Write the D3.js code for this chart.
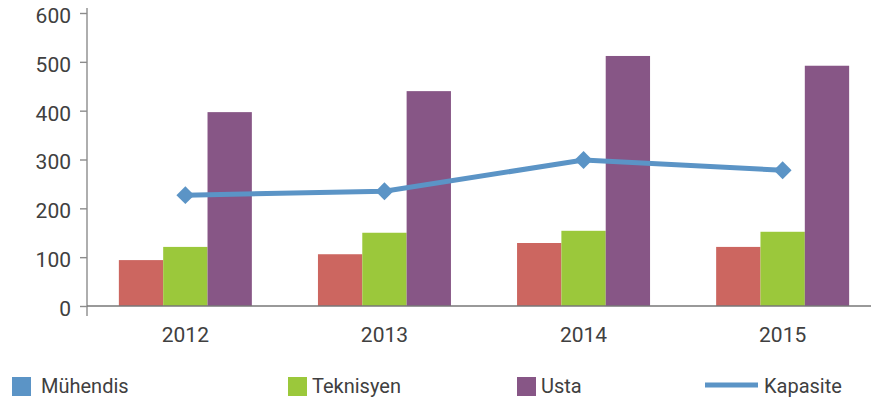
<!DOCTYPE html>
<html>
<head>
<meta charset="utf-8">
<script src="https://cdn.jsdelivr.net/npm/d3@7"></script>
<style>
  body { margin: 0; background: #fff; }
  text { font-family: Roboto, "DejaVu Sans", sans-serif; fill: #404040; }
</style>
</head>
<body>
<div id="chart"></div>
<script>
// data
let years = ["2012", "2013", "2014", "2015"]
let muhendis = [94, 106, 129, 121]
let teknisyen = [121, 150, 154, 152]
let usta = [397, 440, 512, 492]
let kapasite = [227, 235, 299, 278]
let yTicks = [0, 100, 200, 300, 400, 500, 600]

let width = 873, height = 400

let svg = d3.select("#chart")
    .append("svg")
    .attr("width", width)
    .attr("height", height)

let x = d3.scaleBand()
    .domain(years)
    .range([87, 881])
    .paddingInner(0.332)
    .paddingOuter(0.16)

let y = d3.scaleLinear()
    .domain([0, 600])
    .range([306, 13])

let series = [
    { key: "Mühendis", values: muhendis, color: "#cc6660", legend: "#5b94c6" },
    { key: "Teknisyen", values: teknisyen, color: "#9bc83b", legend: "#9bc83b" },
    { key: "Usta", values: usta, color: "#875686", legend: "#875686" }
]

let x1 = d3.scaleBand()
    .domain(series.map(d => d.key))
    .range([0, x.bandwidth()])

// y axis
let yAxis = svg.append("g")
    .attr("transform", `translate(${x.range()[0]},0)`)
    .call(d3.axisLeft(y).tickValues(yTicks).tickSize(7).tickPadding(9))
yAxis.select(".domain").remove()
yAxis.append("line")
    .attr("y1", 8).attr("y2", 316)
    .attr("stroke", "#8c8c8c").attr("stroke-width", 1.4)
yAxis.selectAll(".tick line").attr("stroke", "#8c8c8c").attr("stroke-width", 1.4)
yAxis.selectAll(".tick text")
    .style("font-size", "21px")
    .attr("dy", "0.45em")
    .attr("fill", "#404040")

// bars
series.forEach(function(s) {
    svg.append("g")
        .selectAll("rect")
        .data(s.values)
        .enter()
        .append("rect")
        .attr("x", (d, i) => x(years[i]) + x1(s.key))
        .attr("y", d => y(d))
        .attr("width", x1.bandwidth())
        .attr("height", d => y(0) - y(d))
        .attr("fill", s.color)
})

// x axis
let xAxis = svg.append("g")
    .attr("transform", `translate(0,${y(0)})`)
    .call(d3.axisBottom(x).tickSize(0).tickPadding(21))
xAxis.select(".domain").remove()
xAxis.append("line")
    .attr("x1", x.range()[0]).attr("x2", 871)
    .attr("stroke", "#777").attr("stroke-width", 1.5)
xAxis.selectAll(".tick text")
    .style("font-size", "21px")
    .attr("fill", "#404040")

// capacity line
let line = d3.line()
    .x((d, i) => x(years[i]) + x.bandwidth() / 2)
    .y(d => y(d))

svg.append("path")
    .datum(kapasite)
    .attr("d", line)
    .attr("fill", "none")
    .attr("stroke", "#5b94c6")
    .attr("stroke-width", 5)

svg.append("g")
    .selectAll("path")
    .data(kapasite)
    .enter()
    .append("path")
    .attr("d", d3.symbol().type(d3.symbolSquare).size(160))
    .attr("transform", (d, i) => `translate(${x(years[i]) + x.bandwidth() / 2},${y(d)}) rotate(45)`)
    .attr("fill", "#5b94c6")

// legend
let legendX = [12, 288, 517]
let legend = svg.append("g")
series.forEach(function(s, i) {
    legend.append("rect")
        .attr("x", legendX[i]).attr("y", 377)
        .attr("width", 19).attr("height", 19)
        .attr("fill", s.legend)
    legend.append("text")
        .attr("x", legendX[i] + (i == 0 ? 29 : 24)).attr("y", 393)
        .style("font-size", "20px")
        .text(s.key)
})
legend.append("line")
    .attr("x1", 705).attr("x2", 758)
    .attr("y1", 385).attr("y2", 385)
    .attr("stroke", "#5b94c6").attr("stroke-width", 5)
legend.append("text")
    .attr("x", 764).attr("y", 393)
    .style("font-size", "20px")
    .text("Kapasite")
</script>
</body>
</html>
